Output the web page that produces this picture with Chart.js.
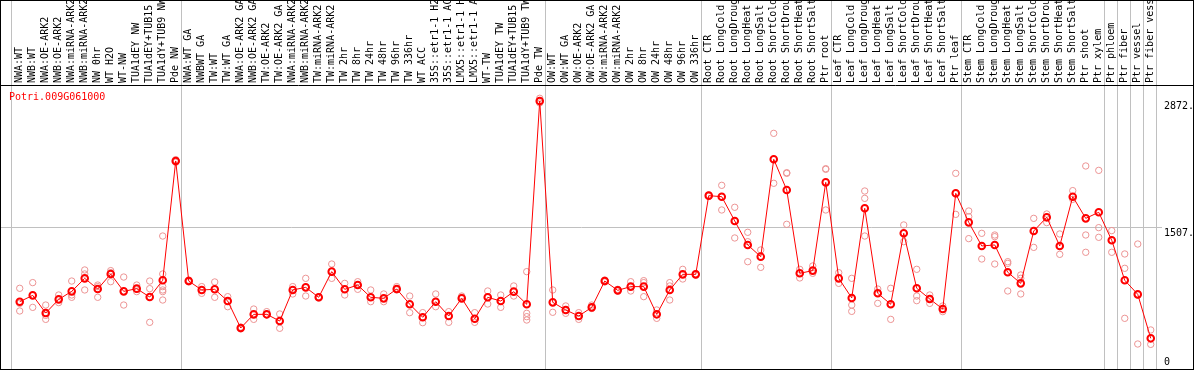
<!DOCTYPE html>
<html>
<head>
<meta charset="utf-8">
<script src="https://cdn.jsdelivr.net/npm/chart.js@4/dist/chart.umd.min.js"></script>
<style>
  html, body { margin: 0; padding: 0; background: #ffffff; }
  #wrap { width: 1194px; height: 370px; position: relative; }
</style>
</head>
<body>
<div id="wrap"><canvas id="c" width="1194" height="370"></canvas></div>
<script>
const geneTitle = "Potri.009G061000";

const categories = [
  "NWA:WT","NWB:WT","NWA:OE-ARK2","NWB:OE-ARK2","NWA:miRNA-ARK2","NWB:miRNA-ARK2","NW 0hr","WT H2O","WT-NW","TUA1dEY NW","TUA1dEY+TUB15 NW","TUA1dY+TUB9 NW","Pde NW",
  "NWA:WT GA","NWBWT GA","TW:WT","TW:WT GA","NWA:OE-ARK2 GA","NWB:OE-ARK2 GA","TW:OE-ARK2","TW:OE-ARK2 GA","NWA:miRNA-ARK2 GA","NWB:miRNA-ARK2 GA","TW:miRNA-ARK2","TW:miRNA-ARK2 GA",
  "TW 2hr","TW 8hr","TW 24hr","TW 48hr","TW 96hr","TW 336hr","WT ACC","35S::etr1-1 H2O","35S::etr1-1 ACC","LMX5::etr1-1 H2O","LMX5::etr1-1 ACC","WT-TW","TUA1dEY TW","TUA1dEY+TUB15 TW","TUA1dY+TUB9 TW","Pde TW",
  "OW:WT","OW:WT GA","OW:OE-ARK2","OW:OE-ARK2 GA","OW:miRNA-ARK2","OW:miRNA-ARK2 GA","OW 2hr","OW 8hr","OW 24hr","OW 48hr","OW 96hr","OW 336hr",
  "Root CTR","Root LongCold","Root LongDrought","Root LongHeat","Root LongSalt","Root ShortCold","Root ShortDrought","Root ShortHeat","Root ShortSalt","Ptr root",
  "Leaf CTR","Leaf LongCold","Leaf LongDrought","Leaf LongHeat","Leaf LongSalt","Leaf ShortCold","Leaf ShortDrought","Leaf ShortHeat","Leaf ShortSalt","Ptr leaf",
  "Stem CTR","Stem LongCold","Stem LongDrought","Stem LongHeat","Stem LongSalt","Stem ShortCold","Stem ShortDrought","Stem ShortHeat","Stem ShortSalt","Ptr shoot","Ptr xylem",
  "Ptr phloem","Ptr fiber","Ptr vessel","Ptr fiber vessel"
];

// number of categories in each separated group
const groupSizes = [13, 28, 12, 10, 10, 11, 1, 1, 1, 1];

const meanValues = [
  713, 781, 591, 738, 824, 964, 849, 1011, 824, 853, 763, 943, 2226,
  935, 839, 846, 720, 430, 577, 577, 505, 839, 867, 760, 1036, 846, 892, 760, 749, 849, 685, 545, 713, 559, 749, 530, 760, 720, 821, 685, 2871,
  706, 624, 559, 652, 935, 835, 875, 875, 577, 839, 1007, 1007,
  1853, 1842, 1581, 1323, 1197, 2244, 1914, 1018, 1047, 1996,
  964, 753, 1717, 803, 685, 1448, 857, 742, 634, 1878,
  1566, 1312, 1323, 1029, 910, 1473, 1620, 1312, 1842, 1609, 1674,
  1373, 943, 792, 319
];

const replicateValues = [
  [857, 695, 613], [918, 781, 652], [677, 566, 523], [785, 738, 703], [935, 785, 760],
  [1054, 1011, 839], [892, 875, 760], [1047, 1025, 928], [978, 824, 677], [892, 846, 821],
  [935, 853, 491], [1419, 1011, 875, 839, 821, 731], [2240, 2226, 2212],
  [946, 935, 925], [875, 839, 803], [925, 846, 760], [767, 720, 659], [440, 430, 420],
  [634, 577, 523], [606, 577, 570], [581, 505, 427], [875, 839, 796], [964, 867, 774],
  [767, 760, 752], [1118, 1036, 964], [910, 846, 785], [928, 892, 846], [839, 760, 713],
  [796, 749, 713], [875, 849, 839], [774, 685, 595], [595, 545, 487], [796, 713, 659],
  [606, 559, 491], [774, 760, 749], [595, 530, 491], [828, 760, 688], [785, 720, 652],
  [882, 821, 774], [1036, 588, 552, 516], [2900, 2871, 2850],
  [839, 706, 599], [667, 624, 588], [595, 559, 523], [677, 652, 640], [946, 935, 925],
  [846, 835, 828], [928, 875, 828], [939, 918, 767], [624, 577, 534], [918, 882, 731],
  [1061, 1007, 957], [1015, 1007, 1000],
  [1860, 1853, 1846], [1964, 1842, 1699], [1728, 1581, 1398], [1459, 1358, 1143], [1269, 1197, 1082],
  [2523, 2244, 1986], [2100, 2093, 1545], [1061, 1018, 968], [1097, 1047, 1018], [2143, 2136, 1699],
  [1025, 964, 910], [964, 677, 609], [1903, 1824, 1419], [849, 803, 695], [857, 685, 523],
  [1538, 1448, 1358], [1061, 774, 724], [785, 742, 695], [667, 634, 606], [2093, 1878, 1652],
  [1688, 1627, 1391], [1448, 1312, 1172], [1430, 1412, 1118], [1143, 1125, 828], [1000, 964, 796],
  [1609, 1473, 1297], [1656, 1620, 1563], [1441, 1312, 1222], [1907, 1842, 1814], [2172, 1430, 1244],
  [2125, 1509, 1405],
  [1477, 1373, 1244], [1226, 1072, 534], [1333, 785, 258], [409, 319, 254]
];

const yTickValues = [0, 1507, 2872];
const yTickLabels = ["0", "1507.", "2872."];

// ---- build datasets from the arrays ----
const meanPoints = meanValues.map((v, i) => ({ x: i, y: v }));
const repPoints = [];
replicateValues.forEach((arr, i) => arr.forEach(v => repPoints.push({ x: i, y: v })));

const separatorPositions = [];
{
  let start = 0;
  separatorPositions.push(start - 0.68);
  groupSizes.forEach(n => { start += n; separatorPositions.push(start - 0.62); });
}

const MONO = "'DejaVu Sans Mono', 'Liberation Mono', monospace";

const decoPlugin = {
  id: 'deco',
  beforeDatasetsDraw(chart) {
    const { ctx, chartArea: a, scales: { x, y } } = chart;
    const W = chart.width, H = chart.height;
    ctx.save();
    ctx.lineWidth = 1;
    ctx.strokeStyle = '#c0c0c0';
    // group separators
    separatorPositions.forEach(v => {
      const px = Math.round(x.getPixelForValue(v)) + 0.5;
      ctx.beginPath(); ctx.moveTo(px, 0); ctx.lineTo(px, H); ctx.stroke();
    });
    // horizontal grid line at the middle tick
    yTickValues.forEach((v) => {
      if (v === 0 || v === yTickValues[yTickValues.length - 1]) return;
      const py = Math.round(y.getPixelForValue(v)) - 0.5;
      ctx.beginPath(); ctx.moveTo(a.left, py); ctx.lineTo(1162, py); ctx.stroke();
    });
    // frame
    ctx.strokeStyle = '#000000';
    ctx.strokeRect(0.5, 0.5, W - 1, H - 1);
    ctx.beginPath(); ctx.moveTo(0, a.top - 0.5); ctx.lineTo(W, a.top - 0.5); ctx.stroke();
    // y tick labels
    ctx.font = '10px ' + MONO;
    ctx.fillStyle = '#000000';
    ctx.textAlign = 'left';
    ctx.textBaseline = 'middle';
    yTickValues.forEach((v, k) => {
      const py = y.getPixelForValue(v);
      const off = v === 0 ? -6 : 6;
      ctx.fillText(yTickLabels[k], 1164, py + off);
    });
    // title
    ctx.fillStyle = '#ff0000';
    ctx.fillText(geneTitle, a.left + 8, a.top + 11);
    ctx.restore();
  }
};

new Chart(document.getElementById('c'), {
  type: 'line',
  data: {
    datasets: [
      {
        label: 'mean',
        data: meanPoints,
        borderColor: '#ff0000',
        borderWidth: 1,
        pointRadius: 3.3,
        pointBorderWidth: 2,
        pointBorderColor: '#ff0000',
        pointBackgroundColor: 'rgba(0,0,0,0)',
        tension: 0,
        fill: false
      },
      {
        label: 'replicates',
        data: repPoints,
        showLine: false,
        pointRadius: 3.2,
        pointBorderWidth: 1,
        pointBorderColor: '#ec9494',
        pointBackgroundColor: 'rgba(0,0,0,0)'
      }
    ]
  },
  options: {
    responsive: false,
    animation: false,
    devicePixelRatio: 1,
    layout: { autoPadding: false, padding: { left: 1, right: 1, top: 0, bottom: 2 } },
    plugins: { legend: { display: false }, tooltip: { enabled: false }, title: { display: false } },
    scales: {
      x: {
        type: 'linear',
        position: 'top',
        min: -1.44,
        max: 90.25,
        afterBuildTicks: (scale) => { scale.ticks = categories.map((_, i) => ({ value: i })); },
        afterFit: (scale) => {
          scale.height = 86;
          scale.paddingLeft = 0;
          scale.paddingRight = 0;
        },
        grid: { display: false, drawTicks: false },
        border: { display: false },
        ticks: {
          autoSkip: false,
          minRotation: 90,
          maxRotation: 90,
          padding: 3,
          labelOffset: 12,
          color: '#000000',
          font: { family: MONO, size: 10 },
          callback: (v) => categories[v] !== undefined ? categories[v] : ''
        }
      },
      y: {
        type: 'linear',
        display: false,
        min: 0,
        max: 3032
      }
    }
  },
  plugins: [decoPlugin]
});
</script>
</body>
</html>
